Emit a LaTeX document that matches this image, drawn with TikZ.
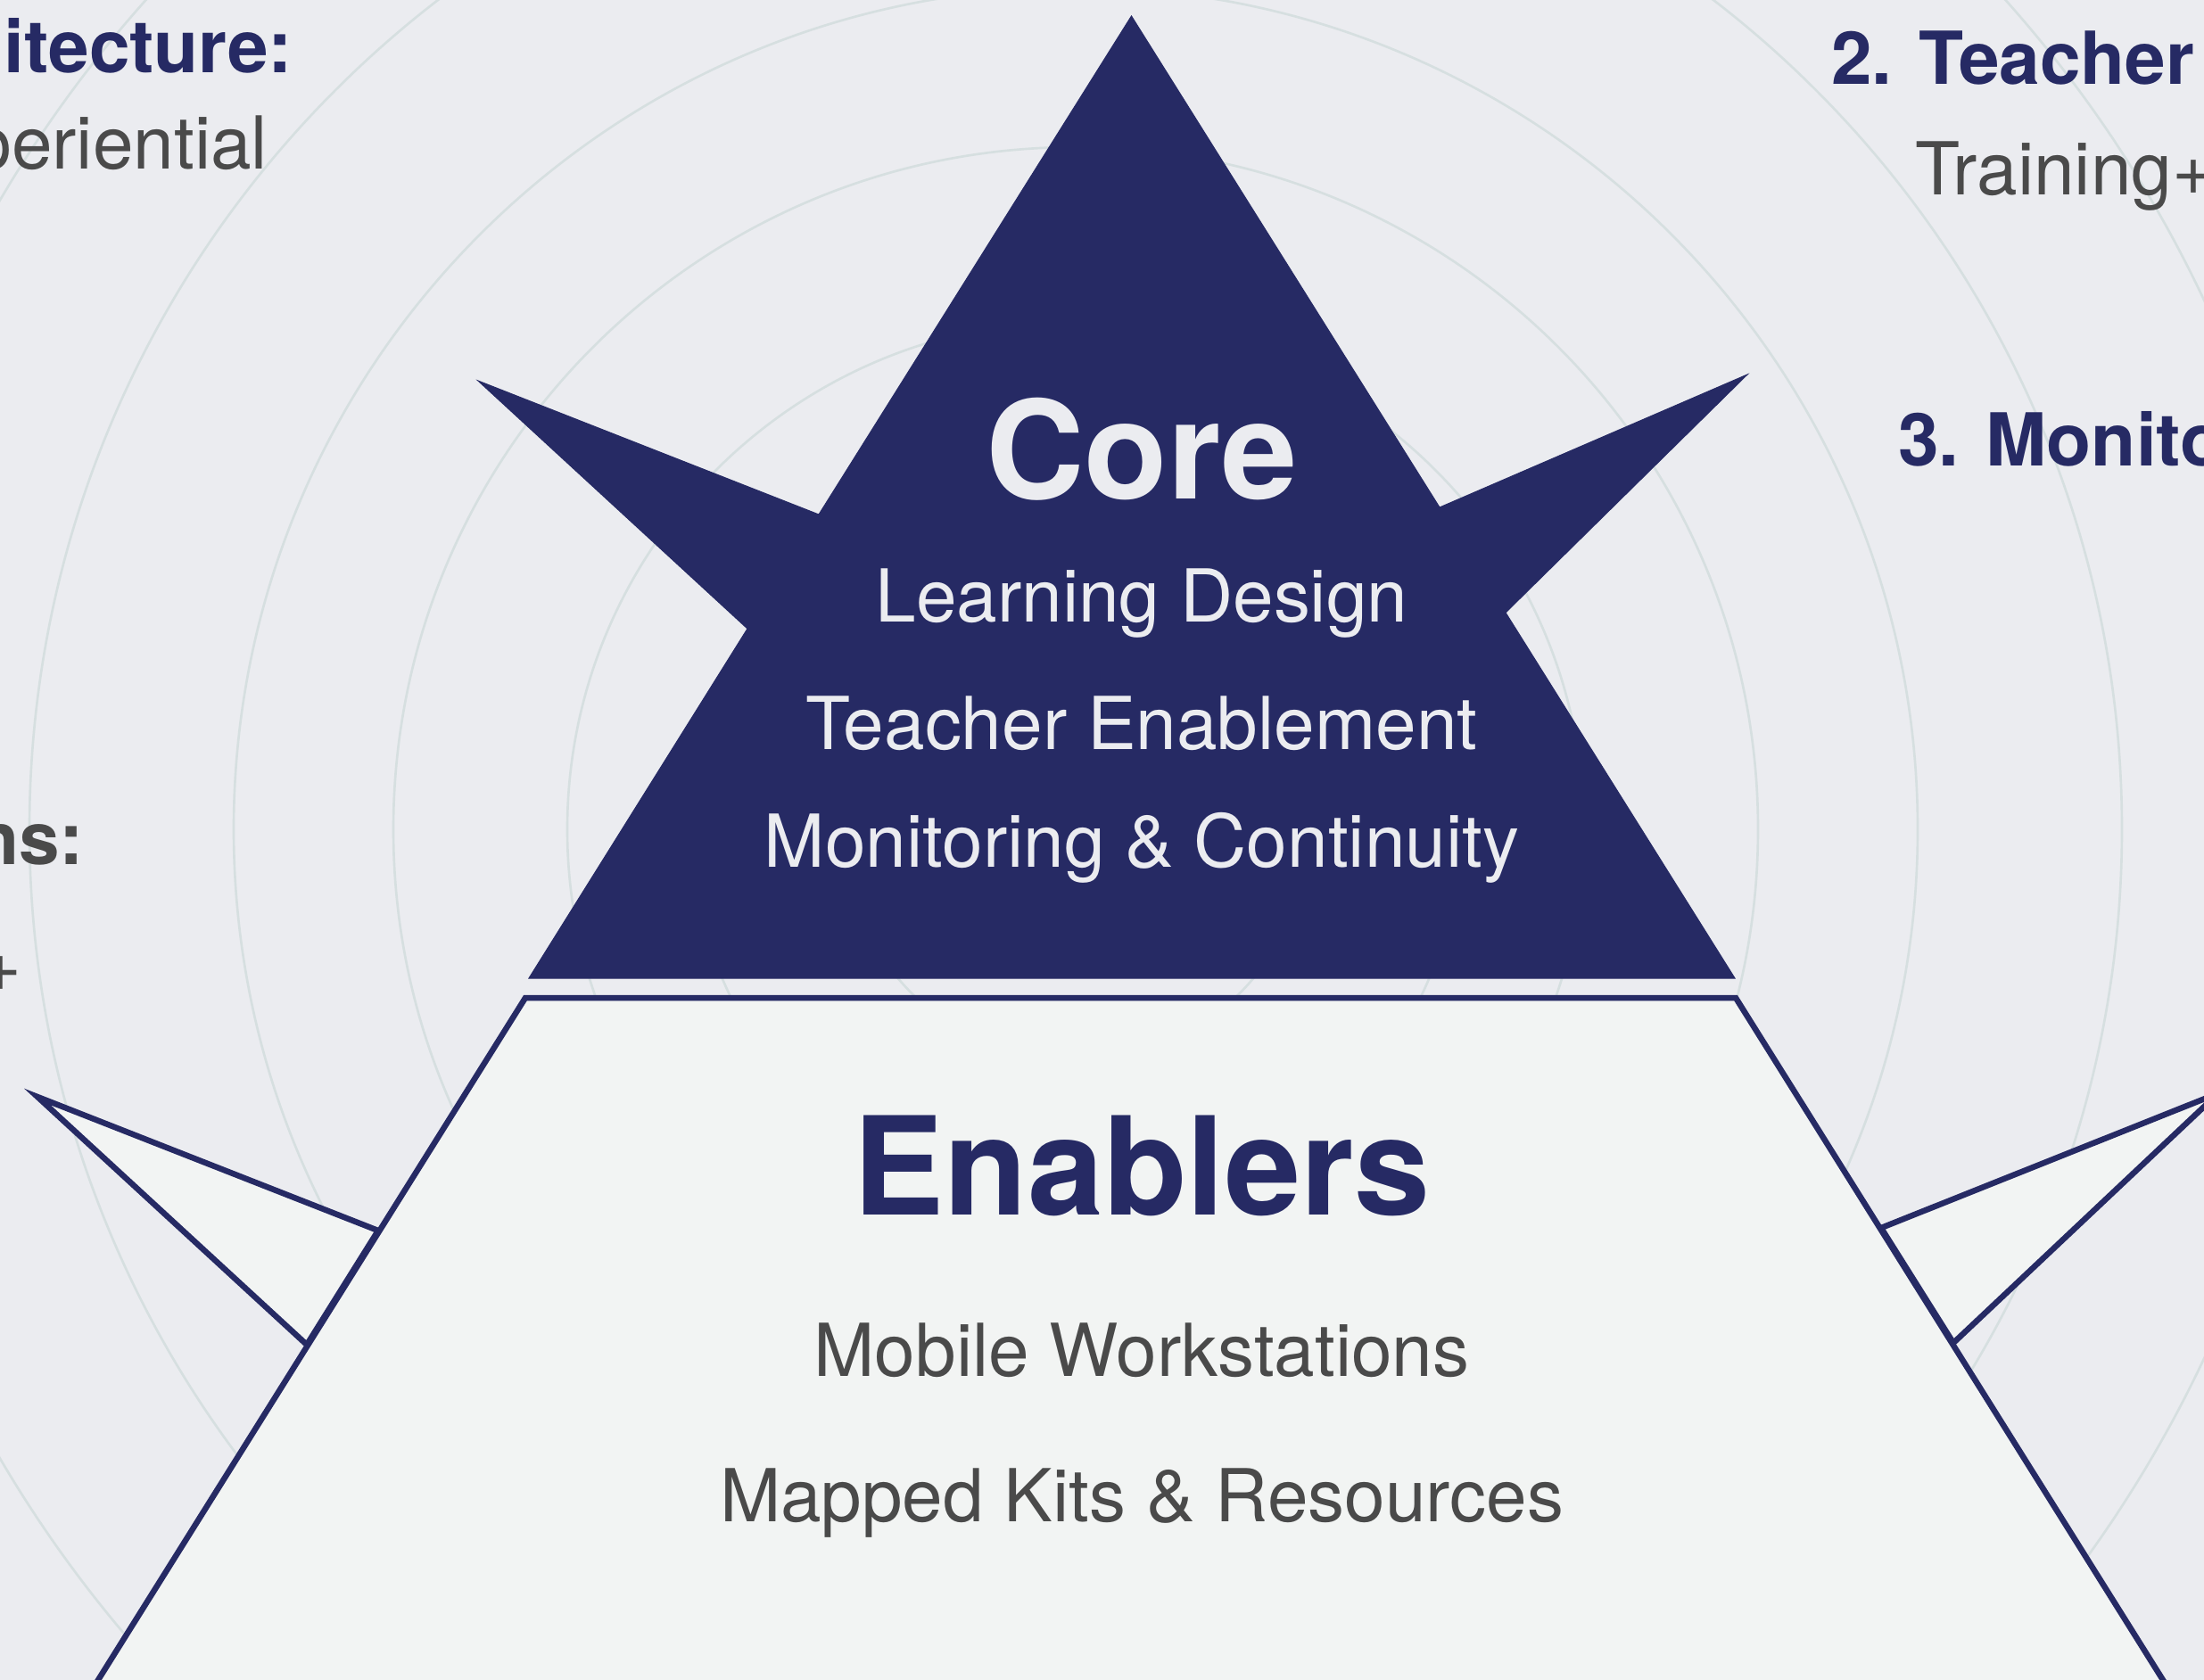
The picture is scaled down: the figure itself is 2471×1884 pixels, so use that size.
\documentclass[tikz,border=0pt]{standalone}
\usepackage{fontspec}
\setmainfont{TeX Gyre Heros}
\definecolor{navy}{HTML}{262A64}
\definecolor{canvasbg}{HTML}{EBECF0}
\definecolor{ringline}{HTML}{D6DFE0}
\definecolor{paper}{HTML}{F2F4F3}
\definecolor{inkgrey}{HTML}{4A4A4A}
\definecolor{corelight}{HTML}{EBECF0}
\newcommand{\itemsize}{\fontsize{23.3pt}{28pt}\selectfont}
\newcommand{\titlesize}{\fontsize{43.5pt}{52pt}\selectfont}
\tikzset{ring/.style={draw=ringline,line width=0.75pt},
         core shape/.style={fill=navy,draw=navy,line width=0.3pt,line join=miter},
         layer shape/.style={fill=paper,draw=navy,line width=1.85pt,line join=miter},
         every node/.style={inner sep=0pt,outer sep=0pt},
         core title/.style={anchor=base,text=corelight,font=\titlesize\bfseries},
         core item/.style={anchor=base,text=corelight,font=\itemsize},
         layer title/.style={anchor=base,text=navy,font=\titlesize\bfseries},
         layer item/.style={anchor=base,text=inkgrey,font=\itemsize},
         side head/.style={text=navy,font=\itemsize\bfseries},
         side note/.style={text=inkgrey,font=\itemsize\bfseries},
         side text/.style={text=inkgrey,font=\itemsize},
}

\begin{document}
\begin{tikzpicture}[x=0.01cm,y=-0.01cm]

\useasboundingbox (0,0) rectangle (2471,1884);
\clip (0,0) rectangle (2471,1884);
\fill[canvasbg] (0,0) rectangle (2471,1884);

% rings behind everything
\coordinate (hub) at (1206,930);
\foreach \r in {260,430,570,765,944,1173,1397}
    \draw[ring] (hub) circle[radius=\r];

% side labels, cut by the frame
\node[side head, anchor=base east] (arch) at (328,81) {hitecture:};
\node[side text, anchor=base east] (exper) at (300,189) {periential};
\node[side note, anchor=base east] (ns) at (94,969) {ns:};
\node[side text, anchor=base east] (plus) at (24,1111) {+};
\node[side head, anchor=base west] (teach) at (2053,94) {2. Teacher};
\node[side text, anchor=base west] (train) at (2147,218) {Training+};
\node[side head, anchor=base west] (monit) at (2128,522) {3. Monito};

% enablers layer with its two spikes
\draw[layer shape] (42,1230) -- (424,1380) -- (344,1508) -- cycle;
\draw[layer shape] (2487,1226) -- (2109,1377) -- (2190,1506) -- cycle;
\draw[layer shape] (589,1119) -- (1946,1119) -- (2435,1900) -- (100,1900) -- cycle;

% core triangle with spikes
\filldraw[core shape] (1268.5,18) -- (1614,569) -- (1959,420) -- (1688,687)
    -- (1945,1097) -- (593,1097) -- (838,705) -- (536,427) -- (918,577) -- cycle;

\node[core title] (core) at (1280,559) {Core};
\node[core item] (design) at (1280,697) {Learning Design};
\node[core item] (teacher) at (1280,840) {Teacher Enablement};
\node[core item] (monitor) at (1280,972) {Monitoring \& Continuity};

\node[layer title] (enablers) at (1280,1362) {Enablers};
\node[layer item] (mobile) at (1280,1543) {Mobile Workstations};
\node[layer item] (kits) at (1280,1706) {Mapped Kits \& Resources};

\end{tikzpicture}
\end{document}
